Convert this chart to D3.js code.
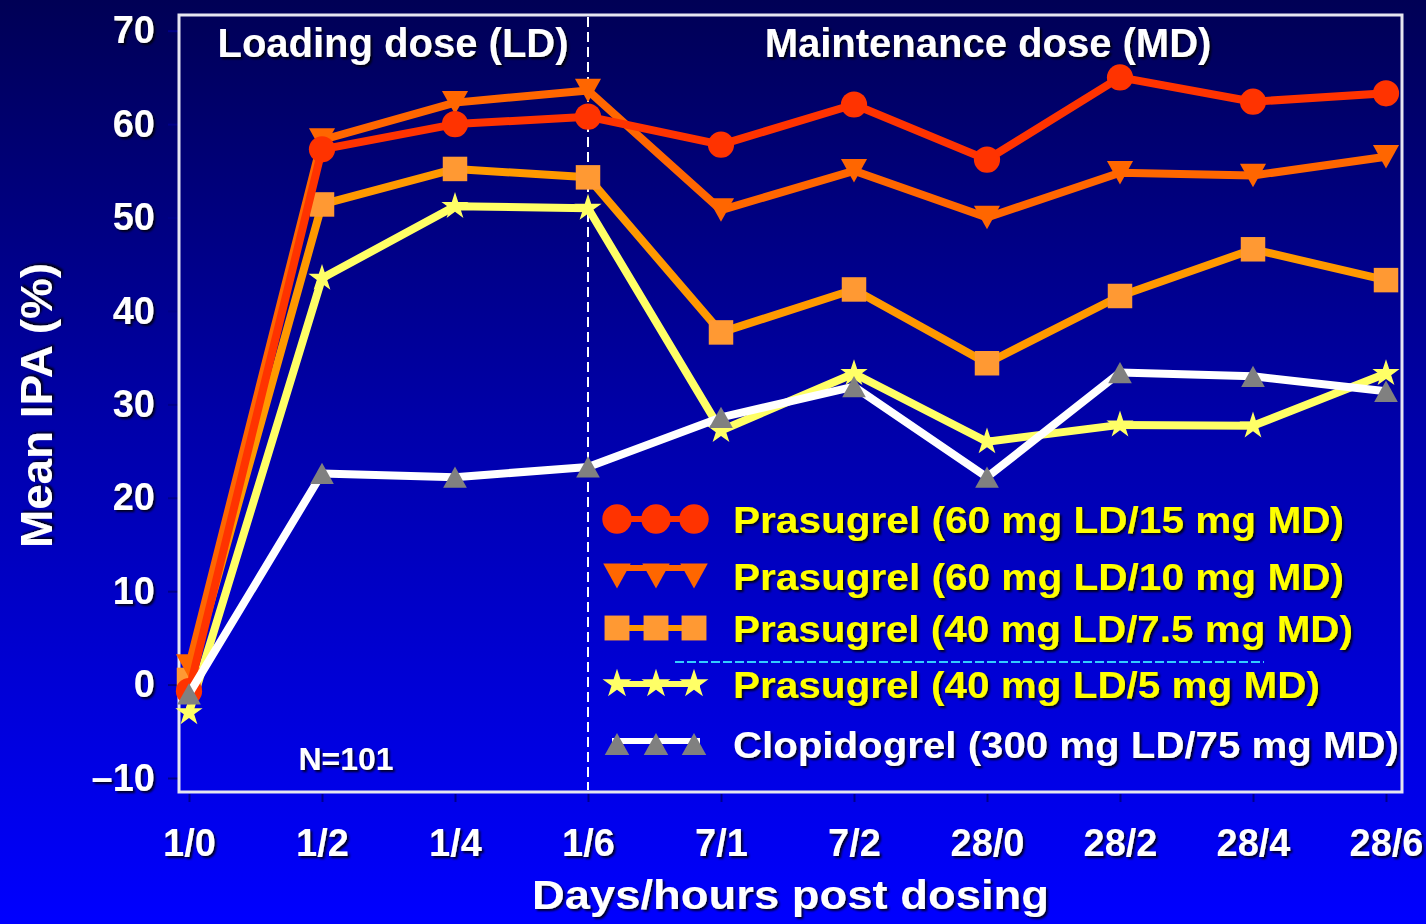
<!doctype html>
<html>
<head>
  <meta charset="utf-8">
  <title>Mean IPA - prasugrel vs clopidogrel</title>
  <script src="https://d3js.org/d3.v7.min.js"></script>
  <style>
    body { margin: 0; background: #00009a; }
    svg { display: block; }
    text { font-family: "Liberation Sans", Arial, sans-serif; font-weight: bold; }
  </style>
</head>
<body>
  <svg id="chart" width="1426" height="924"></svg>

  <script>
  // data
  const timepoints = ["1/0", "1/2", "1/4", "1/6", "7/1", "7/2", "28/0", "28/2", "28/4", "28/6"];
  const pras60_15 = [-0.7, 57.3, 60.0, 60.8, 57.8, 62.1, 56.2, 65.0, 62.4, 63.3];
  const pras60_10 = [2.0, 58.3, 62.3, 63.6, 50.8, 55.0, 50.0, 54.8, 54.5, 56.5];
  const pras40_75 = [0.5, 51.4, 55.2, 54.3, 37.7, 42.3, 34.4, 41.6, 46.6, 43.3];
  const pras40_5  = [-3.0, 43.5, 51.2, 51.0, 27.2, 33.3, 26.0, 27.8, 27.7, 33.3];
  const clopi     = [-1.0, 22.6, 22.2, 23.3, 28.6, 31.9, 22.2, 33.4, 33.0, 31.4];

  const seriesNames = [
    "Prasugrel (60 mg LD/15 mg MD)",
    "Prasugrel (60 mg LD/10 mg MD)",
    "Prasugrel (40 mg LD/7.5 mg MD)",
    "Prasugrel (40 mg LD/5 mg MD)",
    "Clopidogrel (300 mg LD/75 mg MD)"
  ];
  const yTicks = [-10, 0, 10, 20, 30, 40, 50, 60, 70];

  // styles, same order as seriesNames
  const styles = [
    {line: "#ff3300", fill: "#ff3300", shape: "circle", text: "#ffff00"},
    {line: "#ff6600", fill: "#ff6600", shape: "down",   text: "#ffff00"},
    {line: "#ff9900", fill: "#ff9933", shape: "square", text: "#ffff00"},
    {line: "#ffff66", fill: "#ffff66", shape: "star",   text: "#ffff00"},
    {line: "#ffffff", fill: "#808080", shape: "up",     text: "#ffffff"}
  ];
  const allValues = [pras60_15, pras60_10, pras40_75, pras40_5, clopi];

  const series = seriesNames.map((name, i) => ({
    name: name,
    style: styles[i],
    points: timepoints.map((t, j) => ({t: t, v: allValues[i][j]}))
  }));

  const svg = d3.select("#chart");
  const W = +svg.attr("width"), H = +svg.attr("height");
  const frame = {x0: 179, x1: 1402, y0: 15, y1: 792};

  // background gradient + text shadow
  const defs = svg.append("defs");
  const grad = defs.append("linearGradient").attr("id", "bg")
    .attr("x1", 0).attr("y1", 0).attr("x2", 0).attr("y2", 1);
  grad.append("stop").attr("offset", "0%").attr("stop-color", "#000055");
  grad.append("stop").attr("offset", "45%").attr("stop-color", "#0000a8");
  grad.append("stop").attr("offset", "100%").attr("stop-color", "#0000ff");
  const shadow = defs.append("filter").attr("id", "shadow")
    .attr("x", "-10%").attr("y", "-10%").attr("width", "130%").attr("height", "140%");
  shadow.append("feDropShadow").attr("dx", 2).attr("dy", 2)
    .attr("stdDeviation", 0.8).attr("flood-color", "#000").attr("flood-opacity", 0.85);

  svg.append("rect").attr("width", W).attr("height", H).attr("fill", "url(#bg)");

  const x = d3.scalePoint().domain(timepoints).range([189, 1386]);
  const y = d3.scaleLinear().domain([-10, 70]).range([778, 30.7]);

  // symbol shapes (w = nominal width)
  function tri(dir) {
    return {
      draw(ctx, size) {
        const w = Math.sqrt(size), h = w * 0.9;
        ctx.moveTo(0, -dir * h / 2);
        ctx.lineTo(w / 2, dir * h / 2);
        ctx.lineTo(-w / 2, dir * h / 2);
        ctx.closePath();
      }
    };
  }
  const shapeType = {
    circle: d3.symbolCircle, square: d3.symbolSquare, star: d3.symbolStar,
    up: tri(1), down: tri(-1)
  };
  const chartSize = {circle: 540, square: 600, star: 230, up: 560, down: 680};
  const legendSize = {circle: 680, square: 620, star: 260, up: 600, down: 760};

  // axes
  const yAxis = svg.append("g")
    .attr("transform", `translate(${frame.x0 - 1},0)`)
    .call(d3.axisLeft(y).tickValues(yTicks).tickSize(10).tickPadding(13)
      .tickFormat(d => d < 0 ? "\u2013" + Math.abs(d) : d));
  yAxis.select(".domain").remove();
  yAxis.selectAll("line").attr("stroke", "#000088").attr("stroke-width", 2);
  yAxis.selectAll("text").attr("fill", "#fff").attr("font-size", 38)
    .attr("font-family", null).attr("filter", "url(#shadow)");

  const xAxis = svg.append("g")
    .attr("transform", `translate(0,${frame.y1 + 2})`)
    .call(d3.axisBottom(x).tickSize(8).tickPadding(27));
  xAxis.select(".domain").remove();
  xAxis.selectAll("line").attr("stroke", "#000088").attr("stroke-width", 2);
  xAxis.selectAll("text").attr("fill", "#fff").attr("font-size", 38)
    .attr("font-family", null).attr("filter", "url(#shadow)");

  // frame
  svg.append("rect")
    .attr("x", frame.x0).attr("y", frame.y0)
    .attr("width", frame.x1 - frame.x0).attr("height", frame.y1 - frame.y0)
    .attr("fill", "none").attr("stroke", "#e6e6f0").attr("stroke-width", 3);

  // LD / MD split
  svg.append("line")
    .attr("x1", x("1/6")).attr("x2", x("1/6"))
    .attr("y1", frame.y0 + 2).attr("y2", frame.y1 - 2)
    .attr("stroke", "#fff").attr("stroke-width", 2).attr("stroke-dasharray", "10,5");

  // titles
  svg.append("text").attr("x", 393).attr("y", 57).attr("text-anchor", "middle")
    .attr("font-size", 40).attr("fill", "#fff").attr("filter", "url(#shadow)")
    .text("Loading dose (LD)");
  svg.append("text").attr("x", 988).attr("y", 57).attr("text-anchor", "middle")
    .attr("font-size", 40).attr("fill", "#fff").attr("filter", "url(#shadow)")
    .text("Maintenance dose (MD)");
  svg.append("text").attr("x", 346).attr("y", 770).attr("text-anchor", "middle")
    .attr("font-size", 32).attr("fill", "#fff").attr("filter", "url(#shadow)")
    .text("N=101");

  svg.append("text").attr("x", 532).attr("y", 909)
    .attr("font-size", 40).attr("fill", "#fff").attr("filter", "url(#shadow)")
    .attr("textLength", 517).attr("lengthAdjust", "spacingAndGlyphs")
    .text("Days/hours post dosing");
  svg.append("text")
    .attr("transform", "translate(52,548) rotate(-90)")
    .attr("font-size", 44).attr("fill", "#fff").attr("filter", "url(#shadow)")
    .attr("textLength", 285).attr("lengthAdjust", "spacingAndGlyphs")
    .text("Mean IPA (%)");

  // series: clopidogrel drawn last so its triangles sit on top
  const line = d3.line().x(d => x(d.t)).y(d => y(d.v));
  const drawOrder = [3, 2, 1, 0, 4];
  drawOrder.forEach(i => {
    const s = series[i];
    const g = svg.append("g");
    g.append("path").datum(s.points)
      .attr("d", line).attr("fill", "none")
      .attr("stroke", s.style.line).attr("stroke-width", 8)
      .attr("stroke-linejoin", "round");
    g.selectAll("path.mark").data(s.points).join("path")
      .attr("class", "mark")
      .attr("transform", d => `translate(${x(d.t)},${y(d.v)})`)
      .attr("d", d3.symbol().type(shapeType[s.style.shape]).size(chartSize[s.style.shape]))
      .attr("fill", s.style.fill);
  });

  // legend
  const legendBase = [533, 590, 642, 698, 758];
  const legendLen = [611, 611, 620, 587, 666];
  const lineShift = {circle: 0, square: 0, star: 0, down: -8, up: -3};
  const lg = svg.append("g");
  series.forEach((s, i) => {
    const cy = legendBase[i] - 14;
    const shp = s.style.shape;
    lg.append("line")
      .attr("x1", 612).attr("x2", 700)
      .attr("y1", cy + lineShift[shp]).attr("y2", cy + lineShift[shp])
      .attr("stroke", s.style.line).attr("stroke-width", 6);
    [617, 656, 694].forEach(mx => {
      lg.append("path")
        .attr("transform", `translate(${mx},${cy})`)
        .attr("d", d3.symbol().type(shapeType[shp]).size(legendSize[shp]))
        .attr("fill", s.style.fill);
    });
    lg.append("text").attr("x", 733).attr("y", legendBase[i])
      .attr("font-size", 36).attr("fill", s.style.text)
      .attr("filter", "url(#shadow)")
      .attr("textLength", legendLen[i]).attr("lengthAdjust", "spacingAndGlyphs")
      .text(s.name);
  });

  // stray dashed cyan rule seen on the slide
  lg.append("line").attr("x1", 675).attr("x2", 1264).attr("y1", 662).attr("y2", 662)
    .attr("stroke", "#33ccff").attr("stroke-width", 2).attr("stroke-dasharray", "9,3");
  </script>
</body>
</html>
